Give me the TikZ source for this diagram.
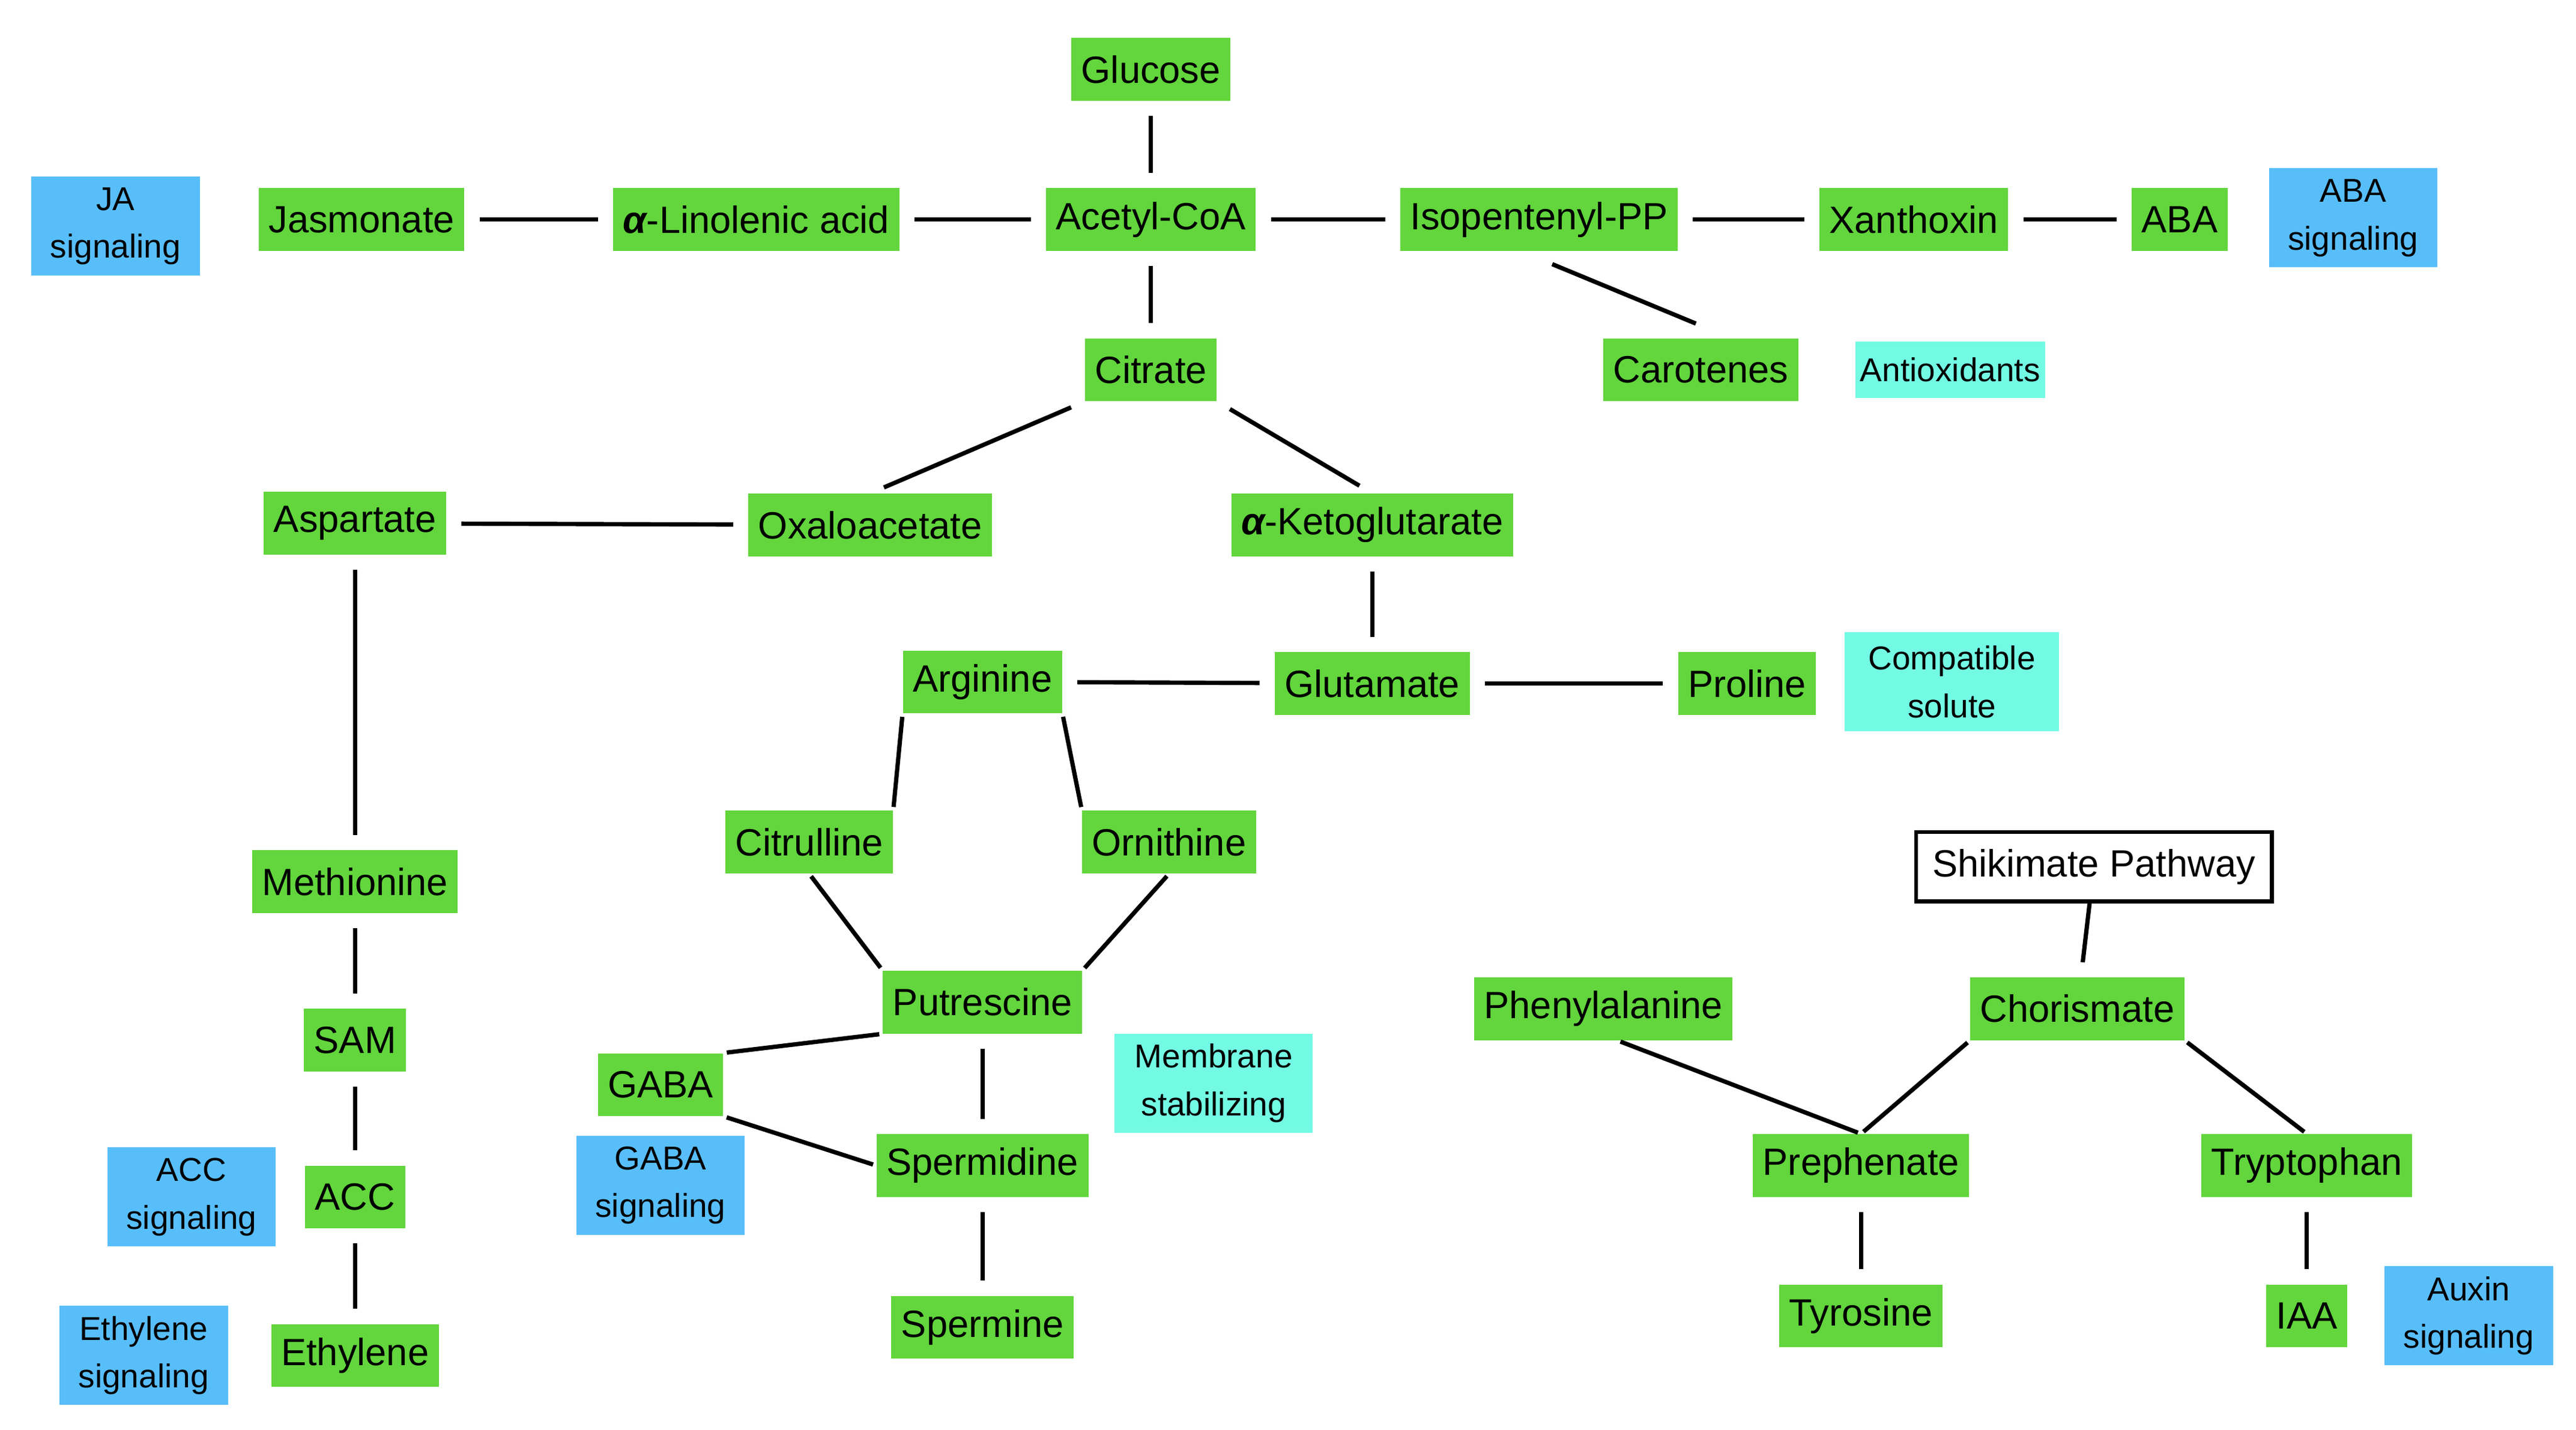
\documentclass[tikz,border=0pt]{standalone}
\usepackage{fontspec}
\setmainfont{Liberation Sans}
\definecolor{gn}{RGB}{98,214,60}
\definecolor{bl}{RGB}{88,190,250}
\definecolor{cy}{RGB}{115,250,228}
\newcommand{\alp}{{\bfseries\itshape α}}
\begin{document}
\begin{tikzpicture}[x=1pt,y=-1pt,
 g/.style={fill=gn,font=\fontsize{23}{26}\selectfont,minimum height=38,inner xsep=6,inner ysep=2},
 b/.style={fill=bl,font=\fontsize{20}{29}\selectfont,align=center,minimum height=60,minimum width=102,inner sep=2},
 c/.style={fill=cy,font=\fontsize{20}{29}\selectfont,align=center,inner sep=3},
 e/.style={line width=2.6,shorten >=9,shorten <=9}]
\useasboundingbox (0,0) rectangle (1560,866);
\node[g] (glu) at (697,42) {Glucose};
\node[g] (acc) at (697,133) {Acetyl-CoA};
\node[g] (lin) at (458,133) {\alp-Linolenic acid};
\node[g] (jas) at (219,133) {Jasmonate};
\node[b] (jas2) at (70,137) {JA\\signaling};
\node[g] (ipp) at (932,133) {Isopentenyl-PP};
\node[g] (xan) at (1159,133) {Xanthoxin};
\node[g] (aba) at (1320,133) {ABA};
\node[b] (abas) at (1425,132) {ABA\\signaling};
\node[g] (cit) at (697,224) {Citrate};
\node[g] (car) at (1030,224) {Carotenes};
\node[c,minimum height=34] (ant) at (1181,224) {Antioxidants};
\node[g] (asp) at (215,317) {Aspartate};
\node[g] (oxa) at (527,318) {Oxaloacetate};
\node[g] (ket) at (831,318) {\alp-Ketoglutarate};
\node[g] (arg) at (595,413) {Arginine};
\node[g] (glm) at (831,414) {Glutamate};
\node[g] (pro) at (1058,414) {Proline};
\node[c,minimum height=60,minimum width=130] (cs) at (1182,413) {Compatible\\solute};
\node[g] (ctr) at (490,510) {Citrulline};
\node[g] (orn) at (708,510) {Ornithine};
\node[draw,line width=2.2,fill=white,font=\fontsize{23}{26}\selectfont,minimum height=42,inner xsep=10] (shk) at (1268,525) {Shikimate Pathway};
\node[g] (met) at (215,534) {Methionine};
\node[g] (put) at (595,607) {Putrescine};
\node[g] (phe) at (971,611) {Phenylalanine};
\node[g] (cho) at (1258,611) {Chorismate};
\node[g] (sam) at (215,630) {SAM};
\node[g] (gab) at (400,657) {GABA};
\node[c,minimum height=60,minimum width=120] (mem) at (735,656) {Membrane\\stabilizing};
\node[g] (spd) at (595,706) {Spermidine};
\node[g] (pre) at (1127,706) {Prephenate};
\node[g] (trp) at (1397,706) {Tryptophan};
\node[b] (gabs) at (400,718) {GABA\\signaling};
\node[b] (accs) at (116,725) {ACC\\signaling};
\node[g] (acc2) at (215,725) {ACC};
\node[g] (spm) at (595,804) {Spermine};
\node[g] (tyr) at (1127,797) {Tyrosine};
\node[g] (iaa) at (1397,797) {IAA};
\node[b] (aux) at (1495,797) {Auxin\\signaling};
\node[b] (eths) at (87,821) {Ethylene\\signaling};
\node[g] (eth) at (215,821) {Ethylene};
\draw[e] (glu)--(acc);
\draw[e] (jas)--(lin);
\draw[e] (lin)--(acc);
\draw[e] (acc)--(ipp);
\draw[e] (ipp)--(xan);
\draw[e] (xan)--(aba);
\draw[e] (acc)--(cit);
\draw[e,shorten <=0,shorten >=0] (940,160)--(1027,196);
\draw[e] (cit.south west)--(oxa.north);
\draw[e] (cit.south east)--(ket.north);
\draw[e] (asp)--(oxa);
\draw[e] (asp)--(met);
\draw[e] (ket)--(glm);
\draw[e] (arg)--(glm);
\draw[e] (glm)--(pro);
\draw[e,shorten <=2,shorten >=2] (arg.south west)--(ctr.north east);
\draw[e,shorten <=2,shorten >=2] (arg.south east)--(orn.north west);
\draw[e,shorten <=2,shorten >=2] (ctr.south)--(put.north west);
\draw[e,shorten <=2,shorten >=2] (orn.south)--(put.north east);
\draw[e,shorten <=2,shorten >=2] (put.south west)--(gab.north east);
\draw[e] (put)--(spd);
\draw[e,shorten <=2,shorten >=2] (gab.south east)--(spd.west);
\draw[e] (spd)--(spm);
\draw[e] (met)--(sam);
\draw[e] (sam)--(acc2);
\draw[e] (acc2)--(eth);
\draw[e,shorten <=0] (shk)--(cho);
\draw[e,shorten <=2,shorten >=2] (cho.south west)--(pre.north);
\draw[e,shorten <=2,shorten >=2] ([xshift=-70]phe.south east)--(pre.north);
\draw[e,shorten <=2,shorten >=2] (cho.south east)--(trp.north);
\draw[e] (pre)--(tyr);
\draw[e] (trp)--(iaa);
\end{tikzpicture}
\end{document}
